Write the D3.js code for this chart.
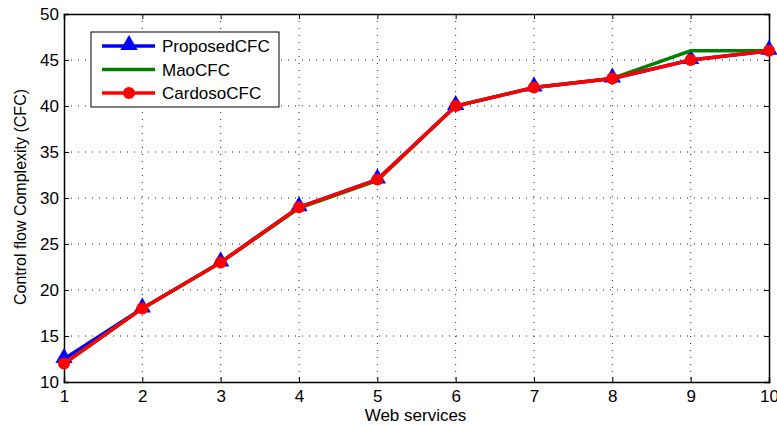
<!DOCTYPE html>
<html>
<head>
<meta charset="utf-8">
<script src="https://cdn.jsdelivr.net/npm/d3@7"></script>
<style>
body { margin: 0; background: #fff; }
text { font-family: "Liberation Sans", Arial, sans-serif; }
</style>
</head>
<body>
<svg id="chart" width="777" height="426"></svg>
<script>
var services = [1, 2, 3, 4, 5, 6, 7, 8, 9, 10];
var proposedCFC = [12.5, 18, 23, 29, 32, 40, 42, 43, 45, 46];
var maoCFC = [12, 18, 23, 28.9, 31.9, 40, 42, 43, 46, 46];
var cardosoCFC = [12, 18, 23, 29, 32, 40, 42, 43, 45, 46];
var yTicks = [10, 15, 20, 25, 30, 35, 40, 45, 50];

var marginLeft = 64;
var marginTop = 14;
var width = 705;
var height = 368;

var svg = d3.select('#chart');

var xScale = d3.scaleLinear().domain([1, 10]).range([0, width]);
var yScale = d3.scaleLinear().domain([10, 50]).range([height, 0]);

var graph = svg.append('g')
	.attr('transform', 'translate(' + marginLeft + ',' + marginTop + ')');

// dotted grid
graph.append('g').selectAll('line').data(services.slice(1, -1)).enter().append('line')
	.attr('x1', function(d){ return xScale(d); })
	.attr('x2', function(d){ return xScale(d); })
	.attr('y1', 0).attr('y2', height)
	.attr('stroke', '#222').attr('stroke-width', 1).attr('stroke-dasharray', '1,6');
graph.append('g').selectAll('line').data(yTicks.slice(1, -1)).enter().append('line')
	.attr('y1', function(d){ return yScale(d); })
	.attr('y2', function(d){ return yScale(d); })
	.attr('x1', 0).attr('x2', width)
	.attr('stroke', '#222').attr('stroke-width', 1).attr('stroke-dasharray', '1,6');

// axes with inward ticks
var xAxis = d3.axisBottom(xScale).tickValues(services).tickSize(-5).tickPadding(8).tickFormat(d3.format('d'));
var yAxis = d3.axisLeft(yScale).tickValues(yTicks).tickSize(-5).tickPadding(5);

var gx = graph.append('g').attr('transform', 'translate(0,' + height + ')').call(xAxis);
var gy = graph.append('g').call(yAxis);
graph.append('g').call(d3.axisTop(xScale).tickValues(services).tickSize(-5).tickFormat(''));
graph.append('g').attr('transform', 'translate(' + width + ',0)')
	.call(d3.axisRight(yScale).tickValues(yTicks).tickSize(-5).tickFormat(''));

graph.selectAll('.domain').attr('stroke', '#000').attr('stroke-width', 1.5);
graph.selectAll('.tick line').attr('stroke', '#000');
gx.selectAll('text').attr('font-size', 17).attr('fill', '#000');
gy.selectAll('text').attr('font-size', 17).attr('fill', '#000');

// axis titles
svg.append('text')
	.attr('x', marginLeft + width / 2 - 1).attr('y', 421)
	.attr('text-anchor', 'middle').attr('font-size', 17)
	.text('Web services');
svg.append('text')
	.attr('transform', 'translate(26,' + (marginTop + height / 2 - 1) + ') rotate(-90)')
	.attr('text-anchor', 'middle').attr('font-size', 16)
	.text('Control flow Complexity (CFC)');

var lineGen = function(vals){
	return d3.line()
		.x(function(d, i){ return xScale(services[i]); })
		.y(function(d){ return yScale(d); })(vals);
};

var triangle = d3.symbol().type(d3.symbolTriangle).size(130);

// proposed (blue with triangles)
graph.append('path').attr('d', lineGen(proposedCFC))
	.attr('fill', 'none').attr('stroke', '#0000ff').attr('stroke-width', 3.5);
graph.append('g').selectAll('path').data(proposedCFC).enter().append('path')
	.attr('d', triangle)
	.attr('transform', function(d, i){ return 'translate(' + xScale(services[i]) + ',' + (yScale(d) - 1) + ')'; })
	.attr('fill', '#0000ff');

// mao (green)
graph.append('path').attr('d', lineGen(maoCFC))
	.attr('fill', 'none').attr('stroke', '#008000').attr('stroke-width', 3.5);

// cardoso (red with circles)
graph.append('path').attr('d', lineGen(cardosoCFC))
	.attr('fill', 'none').attr('stroke', '#ff0000').attr('stroke-width', 3.5);
graph.append('g').selectAll('circle').data(cardosoCFC).enter().append('circle')
	.attr('cx', function(d, i){ return xScale(services[i]); })
	.attr('cy', function(d){ return yScale(d); })
	.attr('r', 6)
	.attr('fill', '#ff0000');

// legend
var legend = svg.append('g').attr('transform', 'translate(91,32)');
legend.append('rect').attr('width', 188).attr('height', 75)
	.attr('fill', '#fff').attr('stroke', '#000').attr('stroke-width', 1);
var names = ['ProposedCFC', 'MaoCFC', 'CardosoCFC'];
var colors = ['#0000ff', '#008000', '#ff0000'];
names.forEach(function(n, i){
	var y = 14 + i * 23.5;
	legend.append('line').attr('x1', 11).attr('x2', 64).attr('y1', y).attr('y2', y)
		.attr('stroke', colors[i]).attr('stroke-width', 3.5);
	if (i === 0) {
		legend.append('path').attr('d', triangle).attr('transform', 'translate(38,' + (y - 1) + ')').attr('fill', colors[i]);
	}
	if (i === 2) {
		legend.append('circle').attr('cx', 38).attr('cy', y).attr('r', 6).attr('fill', colors[i]);
	}
	legend.append('text').attr('x', 71).attr('y', y + 6).attr('font-size', 17).text(n);
});
</script>
</body>
</html>
